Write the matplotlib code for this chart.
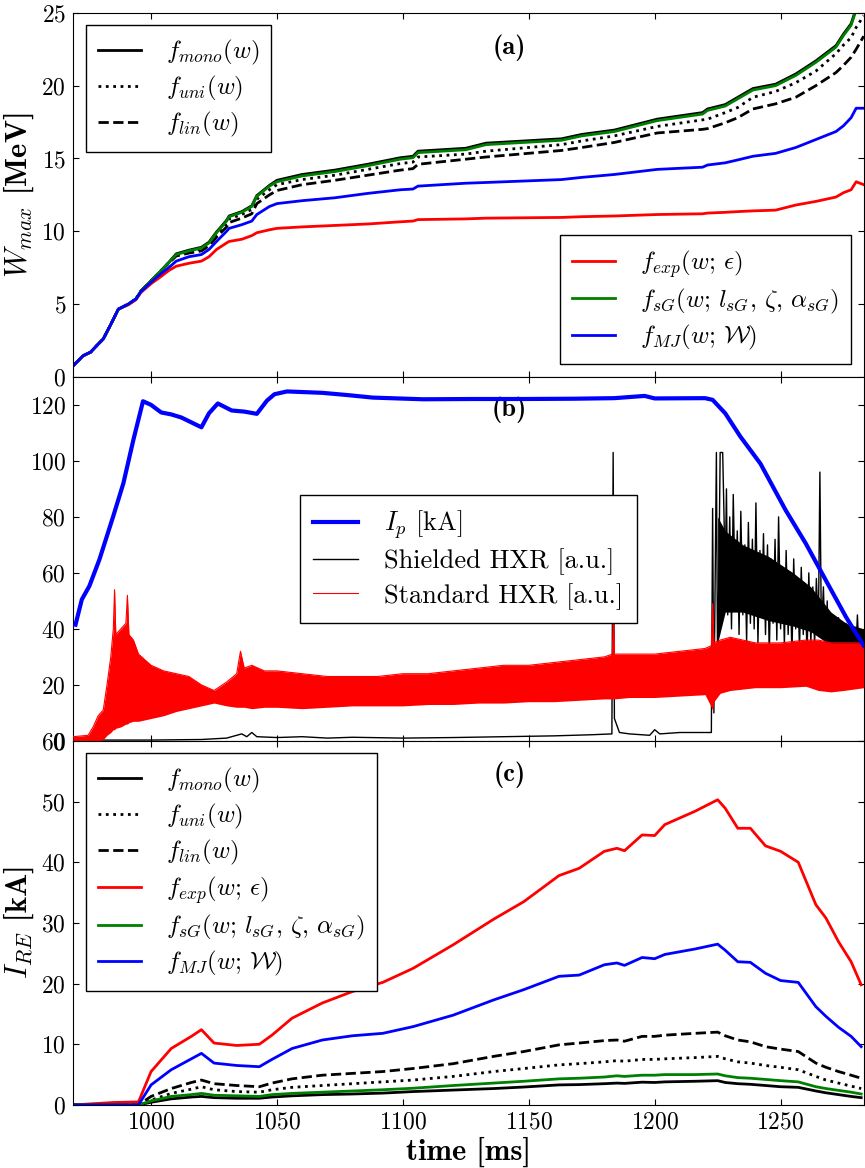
import matplotlib
matplotlib.use("Agg")
import matplotlib.pyplot as plt

# ---- style: Computer Modern like the original LaTeX-ish figure
plt.rcParams["font.family"] = "cmr10"
plt.rcParams["mathtext.fontset"] = "cm"
plt.rcParams["axes.formatter.use_mathtext"] = True
plt.rcParams["axes.unicode_minus"] = False
plt.rcParams["xtick.direction"] = "in"
plt.rcParams["ytick.direction"] = "in"
plt.rcParams["xtick.top"] = True
plt.rcParams["ytick.right"] = True
plt.rcParams["xtick.major.size"] = 4
plt.rcParams["ytick.major.size"] = 4
plt.rcParams["legend.fancybox"] = False
plt.rcParams["legend.edgecolor"] = "black"
plt.rcParams["legend.framealpha"] = 1
plt.rcParams["legend.handlelength"] = 1.7
plt.rcParams["legend.handletextpad"] = 1.0
plt.rcParams["legend.labelspacing"] = 0.28
plt.rcParams["legend.borderpad"] = 0.5
plt.rcParams["legend.borderaxespad"] = 0.5

# ---- data (a): maximum energy [MeV]
t_a = [969, 973, 976, 979, 981, 984, 987, 991, 994, 996, 1000, 1004, 1007, 1010,
       1015, 1020, 1023, 1026, 1030, 1031, 1036, 1040, 1042, 1047, 1050, 1060, 1073,
       1086, 1099, 1104, 1106, 1125, 1133, 1163, 1171, 1184, 1201, 1219, 1221, 1228,
       1233, 1239, 1248, 1256, 1264, 1272, 1275, 1278, 1280, 1283]
w_mono = [0.75, 1.45, 1.7, 2.25, 2.6, 3.6, 4.65, 5.0, 5.35, 5.9, 6.6, 7.3, 7.85, 8.45,
          8.7, 8.9, 9.25, 9.95, 10.75, 11.05, 11.35, 11.75, 12.45, 13.15, 13.5, 13.9, 14.2,
          14.6, 15.05, 15.15, 15.5, 15.7, 16.05, 16.35, 16.65, 16.95, 17.7, 18.15, 18.4, 18.7,
          19.2, 19.8, 20.1, 20.8, 21.7, 22.75, 23.55, 24.25, 25.3, 26.6]
w_uni = [0.75, 1.45, 1.7, 2.25, 2.6, 3.6, 4.65, 5.0, 5.35, 5.9, 6.6, 7.3, 7.85, 8.4,
         8.6, 8.8, 9.15, 9.8, 10.55, 10.85, 11.15, 11.5, 12.2, 12.85, 13.2, 13.55, 13.85,
         14.25, 14.65, 14.75, 15.1, 15.3, 15.5, 15.95, 16.2, 16.55, 17.2, 17.65, 17.7, 18.15,
         18.5, 19.2, 19.6, 20.2, 21.0, 22.2, 22.8, 23.3, 24.0, 24.8]
w_lin = [0.75, 1.45, 1.7, 2.25, 2.6, 3.6, 4.65, 5.0, 5.35, 5.9, 6.6, 7.3, 7.8, 8.3,
         8.5, 8.65, 9.0, 9.6, 10.3, 10.6, 10.9, 11.2, 11.9, 12.5, 12.8, 13.2, 13.5,
         13.85, 14.2, 14.3, 14.6, 14.95, 15.1, 15.55, 15.75, 16.1, 16.75, 17.0, 17.05, 17.45,
         17.8, 18.4, 18.75, 19.2, 20.0, 20.9, 21.4, 21.95, 22.5, 23.4]
w_exp = [0.75, 1.45, 1.7, 2.25, 2.6, 3.6, 4.65, 4.95, 5.3, 5.8, 6.4, 6.9, 7.3, 7.6,
         7.8, 7.95, 8.25, 8.75, 9.2, 9.3, 9.45, 9.7, 9.9, 10.1, 10.2, 10.3, 10.4,
         10.5, 10.65, 10.7, 10.8, 10.85, 10.9, 10.95, 11.0, 11.05, 11.15, 11.2, 11.25, 11.3,
         11.35, 11.4, 11.45, 11.8, 12.05, 12.35, 12.65, 12.85, 13.4, 13.2]
w_sg = [0.75, 1.45, 1.7, 2.25, 2.6, 3.6, 4.65, 5.0, 5.35, 5.9, 6.6, 7.3, 7.85, 8.4,
        8.65, 8.85, 9.2, 9.9, 10.7, 11.0, 11.3, 11.7, 12.4, 13.1, 13.4, 13.8, 14.1,
        14.5, 14.95, 15.05, 15.4, 15.6, 15.95, 16.25, 16.55, 16.85, 17.6, 18.05, 18.3, 18.6,
        19.1, 19.7, 20.0, 20.7, 21.6, 22.65, 23.45, 24.15, 25.2, 26.5]
w_mj = [0.75, 1.45, 1.7, 2.25, 2.6, 3.6, 4.65, 5.0, 5.35, 5.85, 6.5, 7.1, 7.5, 7.95,
        8.25, 8.4, 8.75, 9.3, 10.0, 10.2, 10.45, 10.7, 11.15, 11.7, 11.9, 12.1, 12.3,
        12.6, 12.85, 12.9, 13.1, 13.3, 13.35, 13.55, 13.7, 13.9, 14.25, 14.4, 14.55, 14.7,
        14.9, 15.15, 15.35, 15.75, 16.3, 16.85, 17.25, 17.8, 18.45, 18.45]

# ---- data (b): plasma current and HXR signals
t_ip = [970, 972.5, 975.5, 979.5, 985, 989, 993, 996.8, 1000, 1004, 1008, 1012, 1020,
        1023, 1026.5, 1032, 1037, 1042, 1046, 1049, 1054, 1068, 1078, 1088, 1108, 1128,
        1148, 1168, 1184, 1196, 1200, 1220, 1223, 1228, 1234, 1242, 1252, 1260, 1268,
        1276, 1283]
ip = [41.5, 50.5, 55.3, 64.8, 80.3, 92.0, 107.6, 121.3, 120.0, 117.3, 116.6, 115.5, 112.0,
      117.0, 120.5, 118.0, 117.6, 116.8, 121.5, 123.8, 124.8, 124.3, 123.5, 122.6, 122.0, 122.1,
      122.1, 122.2, 122.4, 123.2, 122.3, 122.4, 121.8, 117.0, 108.7, 99.0, 82.4, 70.5, 57.3,
      44.2, 34.0]

t_std = [969, 975, 977, 979, 981, 982.5, 984, 985, 985.5, 986, 988, 990, 990.6, 991.2,
         993, 995, 1000, 1005, 1010, 1015, 1020, 1025, 1030, 1034, 1035.5, 1037, 1040,
         1045, 1050, 1060, 1070, 1080, 1090, 1100, 1110, 1120, 1130, 1140, 1150, 1160,
         1170, 1180, 1183.2, 1183.6, 1184, 1190, 1200, 1210, 1220, 1222.5, 1223, 1223.5,
         1226, 1230, 1240, 1250, 1260, 1265, 1270, 1275, 1283]
std_hi = [1.5, 2, 5, 9, 11, 20, 30, 40, 54, 38, 40, 42, 52, 38, 36, 31, 27, 25, 24, 23,
          20, 18, 21, 24, 32, 26, 27, 25, 25, 24, 23, 23, 23, 24, 24, 25, 26, 27, 27, 28,
          29, 30, 31, 48, 31, 31, 31, 32, 33, 34, 49, 35, 36, 37, 35, 35, 36, 36, 35, 35, 35]
std_lo = [0, 0, 0, 0, 0.5, 2, 3, 4, 4, 4.5, 5, 6, 6, 6.5, 7, 7, 8, 9, 10.5, 11.5, 12.5,
          13.5, 12.5, 12, 12, 12, 11.5, 12, 12, 11.5, 12, 12.5, 12.5, 12.5, 13, 13, 13.5,
          13.5, 14, 14, 14.5, 15, 15, 15, 15, 15.5, 15.5, 16, 16.5, 12, 11, 14, 17, 18, 19,
          19, 19.5, 18, 17.5, 18, 19]

t_shd = [969, 1000, 1020, 1030, 1036, 1038, 1040, 1042, 1050, 1060, 1070, 1080, 1100,
         1120, 1140, 1160, 1175, 1183, 1183.5, 1184, 1186, 1190, 1198, 1200, 1202, 1210,
         1220, 1222.5, 1223, 1223.5, 1224.5, 1225, 1226, 1227, 1228,
         1228.5, 1229, 1229.8, 1230.5, 1231.2, 1232, 1232.8, 1233.5, 1234.2, 1235, 1235.8,
         1236.5, 1237.2, 1238, 1238.8, 1239.5, 1240.2, 1241, 1241.8, 1242.5, 1243.2, 1244,
         1244.8, 1245.5, 1246.2, 1247, 1247.8, 1248.5, 1249.2, 1250, 1250.8, 1251.5, 1252.2,
         1253, 1253.8, 1254.5, 1255.2, 1256, 1256.8, 1257.5, 1258.2, 1259, 1259.8, 1260.5,
         1261.2, 1262, 1262.8, 1263.5, 1264.2, 1265, 1265.6, 1266.2, 1267, 1267.8, 1268.5,
         1269.2, 1270, 1270.8, 1271.5, 1272.2, 1273, 1273.8, 1274.5, 1275.2, 1276, 1276.8,
         1277.5, 1278.2, 1279, 1279.8, 1280.5, 1281.2, 1282, 1283]
shd = [0.3, 0.3, 0.5, 1.0, 2.5, 1.5, 3.0, 1.5, 1.2, 1.5, 1.0, 1.3, 1.0,
       1.2, 1.5, 1.8, 2.2, 2.5, 103, 8, 3, 2.5, 2.0, 4.0, 2.5, 3.0,
       3.0, 3.0, 83, 10, 103, 20, 103, 103, 60,
       90, 45, 80, 40, 88, 50, 75, 38, 82, 45, 70,
       35, 78, 42, 72, 40, 85, 35, 68, 45, 74, 38,
       70, 30, 65, 42, 72, 36, 80, 40, 62, 34, 68,
       38, 60, 30, 65, 40, 58, 32, 62, 38, 55, 30,
       60, 35, 55, 34, 58, 40, 96, 38, 55, 30, 50,
       28, 45, 30, 40, 28, 44, 30, 38, 26, 42, 30,
       36, 28, 40, 30, 45, 30, 38, 32]
# dense core of the saturated shielded signal
t_shd_core = [1225, 1228, 1235, 1245, 1255, 1262, 1270, 1276, 1283]
shd_core_lo = [35, 46, 46, 43, 41, 39, 34, 31, 31]
shd_core_hi = [80, 75, 70, 66, 60, 55, 46, 42, 40]

# ---- data (c): runaway current [kA]
t_c = [969, 985, 995, 1000, 1008, 1016, 1020, 1025, 1034, 1043, 1048, 1056, 1068, 1080,
       1092, 1104, 1120, 1136, 1148, 1162, 1170, 1180, 1185, 1188, 1195, 1200, 1204, 1216,
       1225, 1228, 1233, 1238, 1244, 1250, 1257, 1264, 1268, 1273, 1278, 1282]
i_mono = [0, 0, 0, 0.44, 1.0, 1.3, 1.4, 1.2, 1.1, 1.1, 1.3, 1.5, 1.7, 1.8, 1.95, 2.2,
          2.45, 2.7, 2.95, 3.3, 3.35, 3.5, 3.6, 3.55, 3.75, 3.7, 3.8, 3.9, 4.0, 3.7, 3.5,
          3.4, 3.2, 3.0, 2.9, 2.3, 2.0, 1.7, 1.4, 1.2]
i_uni = [0, 0, 0, 0.8, 1.9, 2.6, 3.0, 2.5, 2.2, 2.1, 2.5, 2.9, 3.2, 3.5, 3.8, 4.1, 4.7,
         5.5, 6.0, 6.6, 6.8, 7.1, 7.3, 7.2, 7.5, 7.5, 7.6, 7.8, 8.0, 7.6, 7.1, 6.9, 6.5,
         6.2, 5.8, 4.7, 4.1, 3.6, 3.1, 2.7]
i_lin = [0, 0, 0, 1.4, 2.7, 3.7, 4.1, 3.5, 3.2, 3.0, 3.6, 4.3, 4.9, 5.2, 5.5, 6.0, 6.8,
         8.0, 8.8, 9.9, 10.2, 10.6, 10.7, 10.5, 11.3, 11.3, 11.5, 11.8, 12.0, 11.4, 10.7,
         10.4, 9.6, 9.2, 8.8, 6.9, 6.2, 5.5, 4.9, 4.4]
i_exp = [0, 0.4, 0.5, 5.5, 9.3, 11.3, 12.4, 10.2, 9.8, 10.0, 11.5, 14.3, 16.8, 18.7,
         20.2, 22.5, 26.4, 30.6, 33.5, 37.8, 39.0, 41.8, 42.3, 41.9, 44.5, 44.4, 46.2, 48.4,
         50.3, 48.9, 45.6, 45.6, 42.7, 41.8, 40.0, 33.0, 30.8, 26.9, 23.6, 19.8]
i_sg = [0, 0, 0, 0.66, 1.4, 1.7, 1.9, 1.6, 1.5, 1.4, 1.7, 1.9, 2.1, 2.3, 2.5, 2.75, 3.2,
        3.6, 3.9, 4.3, 4.4, 4.6, 4.8, 4.7, 4.9, 4.9, 5.0, 5.0, 5.1, 4.8, 4.5, 4.4, 4.2,
        4.0, 3.8, 3.0, 2.7, 2.4, 2.1, 1.8]
i_mj = [0, 0, 0, 3.3, 5.8, 7.6, 8.5, 6.9, 6.5, 6.3, 7.5, 9.3, 10.7, 11.4, 11.8, 12.9,
        14.8, 17.3, 19.0, 21.2, 21.4, 23.1, 23.4, 23.0, 24.3, 24.1, 24.8, 25.7, 26.5, 25.5,
        23.6, 23.5, 21.7, 20.5, 20.2, 16.2, 14.6, 12.8, 11.3, 9.6]

lbl_mono = r"$f_{mono}(w)$"
lbl_uni = r"$f_{uni}(w)$"
lbl_lin = r"$f_{lin}(w)$"
lbl_exp = r"$f_{exp}(w;\,\epsilon)$"
lbl_sg = r"$f_{sG}(w;\,l_{sG},\,\zeta,\,\alpha_{sG})$"
lbl_mj = r"$f_{MJ}(w;\,\mathcal{W})$"

# ---- figure
fig, (ax1, ax2, ax3) = plt.subplots(3, 1, sharex=True, figsize=(8.65, 11.68), dpi=100)
fig.subplots_adjust(left=0.0844, right=0.9985, bottom=0.054, top=0.989, hspace=0)

lw = 2
fs_tick = 17
fs_leg = 18
fs_lab = 22
fs_tag = 19

# (a)
l1, = ax1.plot(t_a, w_mono, "k-", lw=lw, label=lbl_mono)
l2, = ax1.plot(t_a, w_uni, "k:", lw=lw, label=lbl_uni)
l3, = ax1.plot(t_a, w_lin, "k--", lw=lw, label=lbl_lin)
l4, = ax1.plot(t_a, w_exp, "r-", lw=lw, label=lbl_exp)
l5, = ax1.plot(t_a, w_sg, color="g", lw=lw, label=lbl_sg)
l6, = ax1.plot(t_a, w_mj, "b-", lw=lw, label=lbl_mj)
ax1.set_ylim(0, 25)
ax1.set_ylabel(r"$W_{max}$ [MeV]", fontsize=fs_lab, fontfamily="cmb10")
leg1 = ax1.legend(handles=[l1, l2, l3], loc="upper left", fontsize=fs_leg)
ax1.add_artist(leg1)
ax1.legend(handles=[l4, l5, l6], loc="lower right", fontsize=fs_leg)
ax1.text(0.552, 0.905, "(a)", transform=ax1.transAxes, fontsize=fs_tag,
         fontfamily="cmb10", ha="center", va="center")

# (b)
h_ip, = ax2.plot(t_ip, ip, "b-", lw=3, zorder=4, label=r"$I_p$ [kA]")
h_shd, = ax2.plot(t_shd, shd, "k-", lw=1, zorder=2, label="Shielded HXR [a.u.]")
ax2.fill_between(t_shd_core, shd_core_lo, shd_core_hi, color="k", lw=0, zorder=2)
ax2.fill_between(t_std, std_lo, std_hi, color="r", lw=0, zorder=3)
h_std, = ax2.plot(t_std, std_hi, "r-", lw=0.8, zorder=3, label="Standard HXR [a.u.]")
ax2.set_ylim(0, 130)
ax2.set_yticks([0, 20, 40, 60, 80, 100, 120])
ax2.legend(handles=[h_ip, h_shd, h_std], loc="center", bbox_to_anchor=(0.5, 0.5),
           fontsize=19)
ax2.text(0.552, 0.91, "(b)", transform=ax2.transAxes, fontsize=fs_tag,
         fontfamily="cmb10", ha="center", va="center")

# (c)
ax3.plot(t_c, i_mono, "k-", lw=lw, label=lbl_mono)
ax3.plot(t_c, i_uni, "k:", lw=lw, label=lbl_uni)
ax3.plot(t_c, i_lin, "k--", lw=lw, label=lbl_lin)
ax3.plot(t_c, i_exp, "r-", lw=lw, label=lbl_exp)
ax3.plot(t_c, i_sg, color="g", lw=lw, label=lbl_sg)
ax3.plot(t_c, i_mj, "b-", lw=lw, label=lbl_mj)
ax3.set_ylim(0, 60)
ax3.set_ylabel(r"$I_{RE}$ [kA]", fontsize=fs_lab, fontfamily="cmb10")
ax3.set_xlabel("time [ms]", fontsize=fs_lab, fontfamily="cmb10", labelpad=2)
ax3.legend(loc="upper left", fontsize=fs_leg)
ax3.text(0.552, 0.907, "(c)", transform=ax3.transAxes, fontsize=fs_tag,
         fontfamily="cmb10", ha="center", va="center")

ax3.set_xlim(969, 1283)
ax3.set_xticks([1000, 1050, 1100, 1150, 1200, 1250])

for ax in (ax1, ax2, ax3):
    ax.tick_params(labelsize=fs_tick, pad=5)

plt.savefig("out.png", dpi=100)
